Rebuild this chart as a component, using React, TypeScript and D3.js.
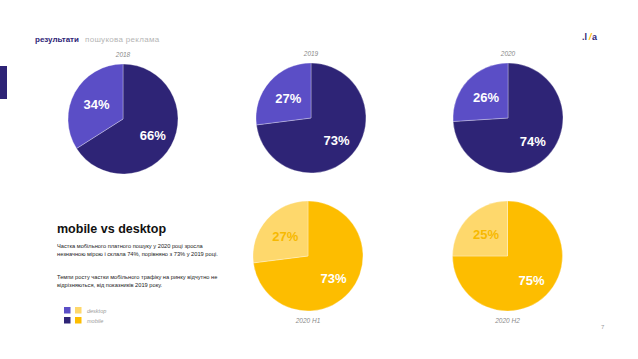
import React from 'react';
import * as d3 from 'd3';

// chart data
const periods = ['2018', '2019', '2020', '2020 H1', '2020 H2'];
const mobileShare = [66, 73, 74, 73, 75];
const desktopShare = [34, 27, 26, 27, 25];

const purple = { mobile: '#2e2476', desktop: '#5b4ec6' };
const yellow = { mobile: '#fdbd00', desktop: '#fed86c' };

const W = 638;
const H = 359;
const R = 55;

// pie placement per period
const centers: [number, number][] = [
   [123, 119],
   [311, 118],
   [508, 118],
   [308, 256],
   [507.5, 256],
];

const para1 = [
   'Частка мобільного платного пошуку у 2020 році зросла',
   'незначною мірою і склала 74%, порівняно з 73% у 2019 році.',
];
const para2 = [
   'Темпи росту частки мобільного трафіку на ринку відчутно не',
   'відрізняються, від показників 2019 року.',
];

const font = '"Liberation Sans", Arial, sans-serif';

const Pie: React.FC<{ i: number }> = ({ i }) => {
   const [cx, cy] = centers[i];
   const half = i >= 3;
   const pal = half ? yellow : purple;
   const slices = [
      { key: 'mobile', value: mobileShare[i] },
      { key: 'desktop', value: desktopShare[i] },
   ];
   const pie = d3.pie<{ key: string; value: number }>().sort(null).value((d) => d.value);
   const arcs = pie(slices);
   const arc = d3.arc<d3.PieArcDatum<any>>().innerRadius(0).outerRadius(R);

   return (
      <g transform={`translate(${cx},${cy})`}>
         {arcs.map((a) => (
            <path
               key={a.data.key}
               d={arc(a) ?? ''}
               fill={(pal as any)[a.data.key]}
               stroke="#ffffff"
               strokeOpacity={0.5}
               strokeWidth={0.6}
            />
         ))}
         {arcs.map((a) => {
            // larger slice label sits a bit further out
            const lr = R * (a.data.key === 'mobile' ? 0.62 : 0.55);
            const [lx, ly] = d3.arc<d3.PieArcDatum<any>>().innerRadius(lr).outerRadius(lr).centroid(a);
            const fill = half && a.data.key === 'desktop' ? '#f7b900' : '#ffffff';
            return (
               <text
                  key={'l' + a.data.key}
                  x={lx}
                  y={ly}
                  dy="0.35em"
                  textAnchor="middle"
                  fontFamily={font}
                  fontWeight="bold"
                  fontSize={13}
                  fill={fill}
               >
                  {a.data.value}%
               </text>
            );
         })}
         <text
            x={0}
            y={half ? R + 12 : -R - 7.5}
            textAnchor="middle"
            fontFamily={font}
            fontStyle="italic"
            fontSize={6.5}
            fill="#8a8a8a"
         >
            {periods[i]}
         </text>
      </g>
   );
};

export default function App() {
   return (
      <div style={{ position: 'absolute', left: 0, top: 0 }}>
         <svg width={W} height={H} style={{ display: 'block', background: '#fff' }}>
            {/* header */}
            <text x={35} y={42} fontFamily={font} fontSize={8} fontWeight="bold" fill="#2e2476">
               результати
            </text>
            <text x={85} y={42} fontFamily={font} fontSize={8} fill="#b5b5b5" letterSpacing={0.3}>
               пошукова реклама
            </text>
            <rect x={0} y={66} width={7} height={33} fill="#2e2476" />

            {/* logo */}
            <g fontFamily={font} fontWeight="bold" fontSize={9}>
               <text x={582} y={40} fill="#2e2476">.l</text>
               <text x={589} y={40} fill="#fdbd00" fontStyle="italic">/</text>
               <text x={592} y={40} fill="#2e2476">a</text>
            </g>

            {periods.map((_, i) => (
               <Pie key={i} i={i} />
            ))}

            {/* description */}
            <text x={57} y={233} fontFamily={font} fontSize={12.5} fontWeight="bold" fill="#111">
               mobile vs desktop
            </text>
            {para1.map((t, k) => (
               <text key={'a' + k} x={57} y={248 + k * 8} fontFamily={font} fontSize={5.7} fill="#222">
                  {t}
               </text>
            ))}
            {para2.map((t, k) => (
               <text key={'b' + k} x={57} y={279 + k * 8} fontFamily={font} fontSize={5.7} fill="#222">
                  {t}
               </text>
            ))}

            {/* legend */}
            <rect x={64} y={307} width={6.5} height={6.5} fill={purple.desktop} />
            <rect x={75} y={307} width={6.5} height={6.5} fill={yellow.desktop} />
            <rect x={64} y={317} width={6.5} height={6.5} fill={purple.mobile} />
            <rect x={75} y={317} width={6.5} height={6.5} fill={yellow.mobile} />
            <text x={87} y={312.5} fontFamily={font} fontStyle="italic" fontSize={5.5} fill="#9a9a9a">
               desktop
            </text>
            <text x={87} y={322.5} fontFamily={font} fontStyle="italic" fontSize={5.5} fill="#9a9a9a">
               mobile
            </text>

            <text x={601} y={329} fontFamily={font} fontSize={6} fill="#9a9a9a">7</text>
         </svg>
      </div>
   );
}
